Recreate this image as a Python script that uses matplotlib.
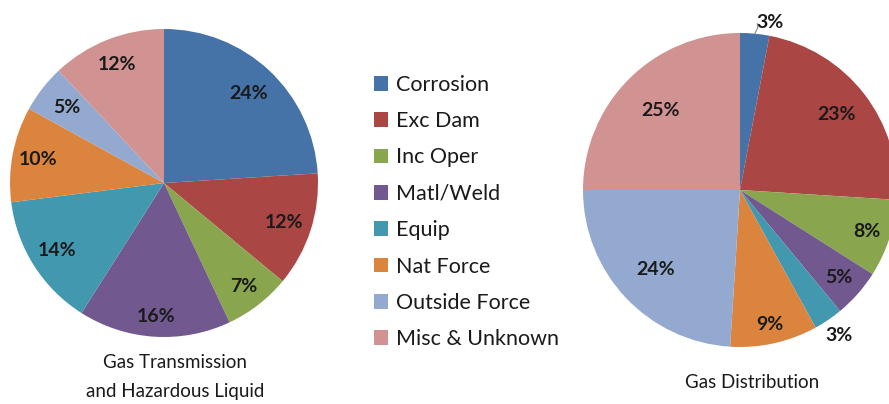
import numpy as np
import matplotlib
matplotlib.use("Agg")
import matplotlib.pyplot as plt
from matplotlib.patches import Patch

plt.rcParams['font.family'] = ['Lato', 'DejaVu Sans']

categories = ['Corrosion', 'Exc Dam', 'Inc Oper', 'Matl/Weld', 'Equip',
              'Nat Force', 'Outside Force', 'Misc & Unknown']
colors = ['#4572A7', '#AA4643', '#89A54E', '#71588F', '#4198AF',
          '#DB843D', '#93A9CF', '#D19392']

transmission = [24, 12, 7, 16, 14, 10, 5, 12]
distribution = [3, 23, 8, 5, 3, 9, 24, 25]

# label distance from centre (fraction of radius), like Excel's best fit
trans_label_r = [0.80, 0.82, 0.85, 0.87, 0.82, 0.83, 0.80, 0.83]
dist_label_r = [1.10, 0.78, 0.85, 0.84, 1.12, 0.88, 0.74, 0.72]

W, H = 889, 404
fig = plt.figure(figsize=(W / 100, H / 100), dpi=100)


def pie_axes(cx, cy, r):
    # axes spanning exactly the pie circle, given in pixels
    return fig.add_axes([(cx - r) / W, (H - cy - r) / H, 2 * r / W, 2 * r / H])


def draw_pie(ax, values, label_r):
    wedges, _, autotexts = ax.pie(values, colors=colors, startangle=90,
                                  counterclock=False, autopct='%d%%',
                                  wedgeprops=dict(linewidth=0),
                                  textprops=dict(fontsize=14, fontweight='bold',
                                                 color='#1a1a1a'))
    for w, t, r in zip(wedges, autotexts, label_r):
        ang = np.deg2rad((w.theta1 + w.theta2) / 2)
        t.set_position((r * np.cos(ang), r * np.sin(ang)))
    ax.set_xlim(-1, 1)
    ax.set_ylim(-1, 1)
    ax.axis('off')
    return wedges, autotexts


ax1 = pie_axes(164, 183, 154)
draw_pie(ax1, transmission, trans_label_r)

ax2 = pie_axes(740, 190, 157)
wedges, autotexts = draw_pie(ax2, distribution, dist_label_r)
# small top slice: label outside with a leader line
w = wedges[0]
ang = np.deg2rad((w.theta1 + w.theta2) / 2)
x0, y0 = np.cos(ang), np.sin(ang)
autotexts[0].set_position((0.19, 1.07))
ax2.plot([x0, x0 + 0.02, 0.11], [y0, y0 + 0.04, 1.06], color='#888888', lw=0.8,
         clip_on=False)

fig.text(175 / W, 1 - 363 / H, 'Gas Transmission', ha='center', va='center',
         fontsize=13.5, color='#1a1a1a')
fig.text(175 / W, 1 - 392 / H, 'and Hazardous Liquid', ha='center', va='center',
         fontsize=13.5, color='#1a1a1a')
fig.text(752 / W, 1 - 383 / H, 'Gas Distribution', ha='center', va='center',
         fontsize=13.5, color='#1a1a1a')

handles = [Patch(facecolor=c, edgecolor='none') for c in colors]
fig.legend(handles, categories, loc='upper left',
           bbox_to_anchor=(363 / W, 1 - 64 / H), frameon=False,
           fontsize=15.5, handlelength=0.68, handleheight=0.68,
           handletextpad=0.35, labelspacing=0.76, borderpad=0,
           labelcolor='#1a1a1a')

fig.savefig('out.png', dpi=100)
